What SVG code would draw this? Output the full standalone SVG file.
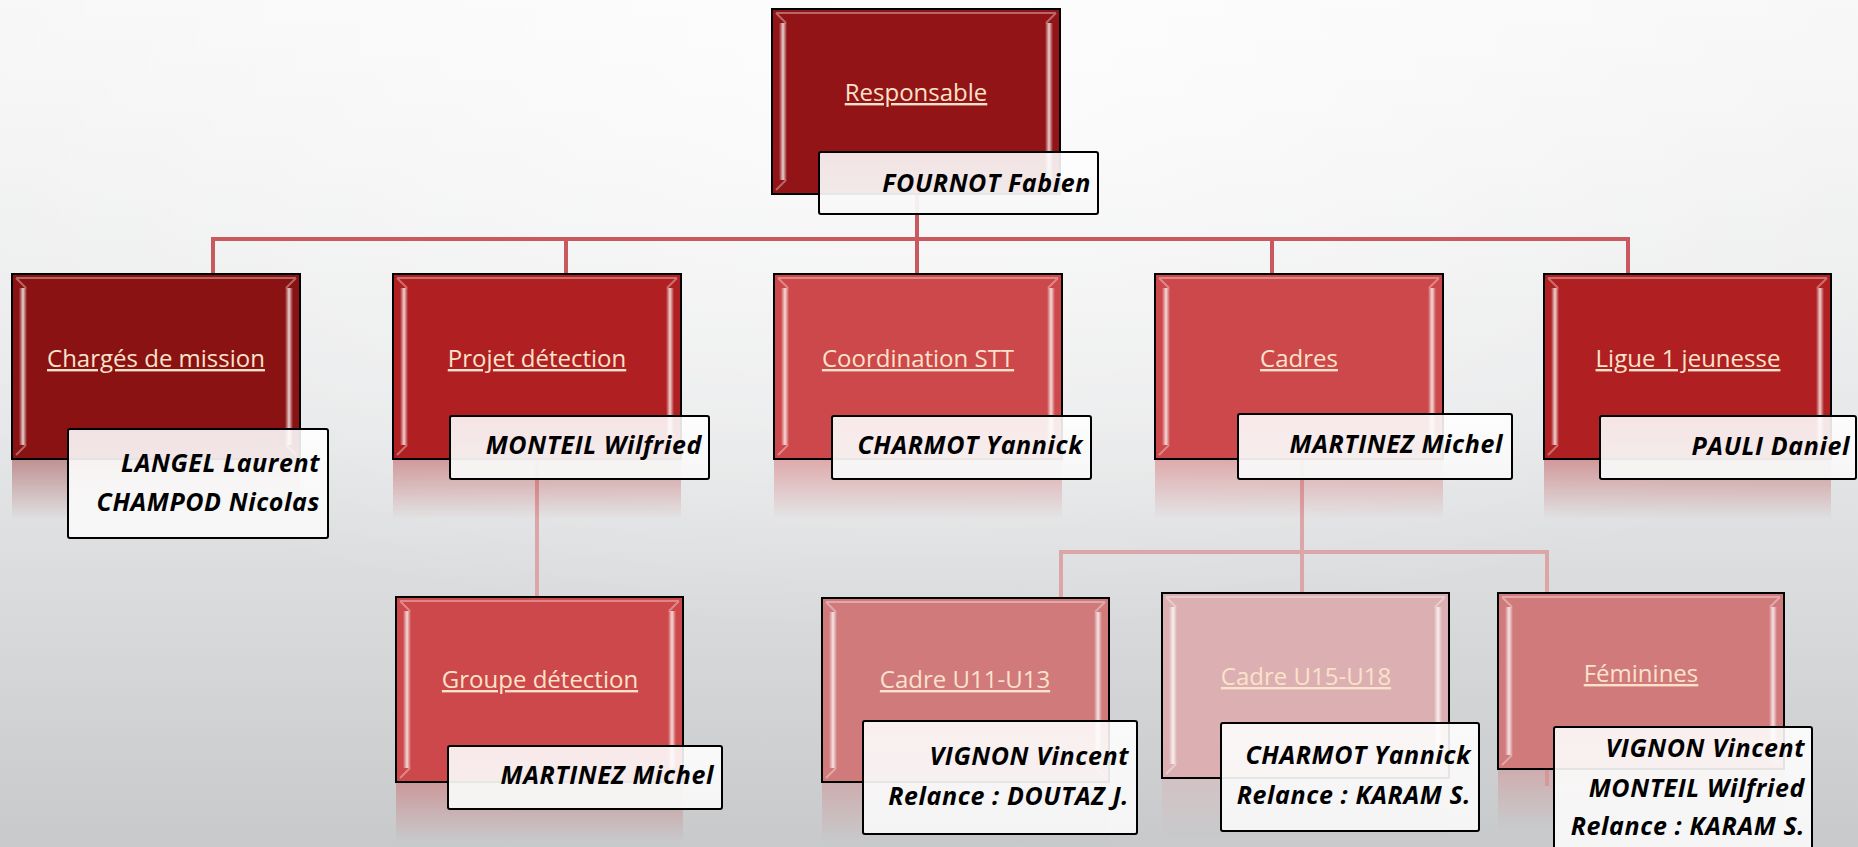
<svg xmlns="http://www.w3.org/2000/svg" width="1858" height="847" viewBox="0 0 1858 847">
<defs>
<linearGradient id="bg" x1="0" y1="0" x2="0" y2="1">
<stop offset="0" stop-color="#f6f6f6"/>
<stop offset="0.5" stop-color="#e6e7e8"/>
<stop offset="1" stop-color="#c7c9cb"/>
</linearGradient>
<radialGradient id="glow" cx="0.5" cy="0.05" r="0.7">
<stop offset="0" stop-color="#ffffff" stop-opacity="0.8"/>
<stop offset="1" stop-color="#ffffff" stop-opacity="0"/>
</radialGradient>
<linearGradient id="vstrip" x1="0" y1="0" x2="1" y2="0">
<stop offset="0" stop-color="#ffffff" stop-opacity="0"/>
<stop offset="0.5" stop-color="#ffffff" stop-opacity="0.8"/>
<stop offset="1" stop-color="#ffffff" stop-opacity="0"/>
</linearGradient>
<linearGradient id="fade" x1="0" y1="0" x2="0" y2="1">
<stop offset="0" stop-color="#ffffff" stop-opacity="0.4"/>
<stop offset="1" stop-color="#ffffff" stop-opacity="0"/>
</linearGradient>
<mask id="refl" maskContentUnits="objectBoundingBox">
<rect x="0" y="0" width="1" height="1" fill="url(#fade)"/>
</mask>
<linearGradient id="namefill" x1="0" y1="0" x2="0" y2="1">
<stop offset="0" stop-color="#ffffff" stop-opacity="0.88"/>
<stop offset="1" stop-color="#f7f7f7" stop-opacity="0.95"/>
</linearGradient>
</defs>
<style>
.box{stroke:#000;stroke-width:2}
.strip{fill:url(#vstrip)}
.hl{stroke:#ffffff;stroke-opacity:0.35;stroke-width:2;fill:none}
.lbl{font-family:"Open Sans","Liberation Sans",sans-serif;font-size:24px;fill:#fbe2cb;text-anchor:middle;text-decoration:underline}
.name{fill:url(#namefill);stroke:#000;stroke-width:2}
.nt{font-family:"Open Sans","Liberation Sans",sans-serif;font-size:25px;letter-spacing:0.6px;font-weight:bold;font-style:italic;fill:#000;text-anchor:end}
.c1{stroke:#c85a5f;stroke-width:4;fill:none}
.c2{stroke:#dca5a8;stroke-width:4;fill:none}
</style>
<rect width="1858" height="847" fill="url(#bg)"/>
<rect width="1858" height="847" fill="url(#glow)"/>

<g id="connectors">
<path class="c1" d="M917 194V274"/>
<path class="c1" d="M213 274V239H1628V274"/>
<path class="c1" d="M566 239V274"/>
<path class="c1" d="M1272 239V274"/>
<path class="c2" d="M537 459V597"/>
<path class="c2" d="M1302 459V593"/>
<path class="c2" d="M1061 598V552H1547V786"/>
</g>

<g id="responsable" transform="translate(772,9)">
<rect class="box" width="288" height="185" fill="#921416"/>
<rect class="strip" x="7" y="14" width="8" height="157"/>
<rect class="strip" x="273" y="14" width="8" height="157"/>
<path class="hl" d="M4 4H284M4 4L14 14M284 4L274 14M4 181L14 171M284 181L274 171"/>
<text class="lbl" x="144" y="92">Responsable</text>
</g>
<g id="responsable-name"><rect class="name" x="819" y="152" width="279" height="62" rx="2"/><text class="nt" x="1091" y="192">FOURNOT Fabien</text></g>

<g id="charges" transform="translate(12,274)">
<rect x="0" y="185" width="288" height="60" fill="#8a1213" mask="url(#refl)"/>
<rect class="box" width="288" height="185" fill="#8a1213"/>
<rect class="strip" x="7" y="14" width="8" height="157"/>
<rect class="strip" x="273" y="14" width="8" height="157"/>
<path class="hl" d="M4 4H284M4 4L14 14M284 4L274 14M4 181L14 171M284 181L274 171"/>
<text class="lbl" x="144" y="93">Chargés de mission</text>
</g>
<g id="charges-name"><rect class="name" x="68" y="429" width="260" height="109" rx="2"/><text class="nt" x="320" y="472">LANGEL Laurent</text><text class="nt" x="320" y="511">CHAMPOD Nicolas</text></g>

<g id="projet" transform="translate(393,274)">
<rect x="0" y="185" width="288" height="60" fill="#b02022" mask="url(#refl)"/>
<rect class="box" width="288" height="185" fill="#b02022"/>
<rect class="strip" x="7" y="14" width="8" height="157"/>
<rect class="strip" x="273" y="14" width="8" height="157"/>
<path class="hl" d="M4 4H284M4 4L14 14M284 4L274 14M4 181L14 171M284 181L274 171"/>
<text class="lbl" x="144" y="93">Projet détection</text>
</g>
<g id="projet-name"><rect class="name" x="450" y="416" width="259" height="63" rx="2"/><text class="nt" x="702" y="454">MONTEIL Wilfried</text></g>

<g id="coordination" transform="translate(774,274)">
<rect x="0" y="185" width="288" height="60" fill="#cc484a" mask="url(#refl)"/>
<rect class="box" width="288" height="185" fill="#cc484a"/>
<rect class="strip" x="7" y="14" width="8" height="157"/>
<rect class="strip" x="273" y="14" width="8" height="157"/>
<path class="hl" d="M4 4H284M4 4L14 14M284 4L274 14M4 181L14 171M284 181L274 171"/>
<text class="lbl" x="144" y="93">Coordination STT</text>
</g>
<g id="coordination-name"><rect class="name" x="832" y="416" width="259" height="63" rx="2"/><text class="nt" x="1083" y="454">CHARMOT Yannick</text></g>

<g id="cadres" transform="translate(1155,274)">
<rect x="0" y="185" width="288" height="60" fill="#cc484a" mask="url(#refl)"/>
<rect class="box" width="288" height="185" fill="#cc484a"/>
<rect class="strip" x="7" y="14" width="8" height="157"/>
<rect class="strip" x="273" y="14" width="8" height="157"/>
<path class="hl" d="M4 4H284M4 4L14 14M284 4L274 14M4 181L14 171M284 181L274 171"/>
<text class="lbl" x="144" y="93">Cadres</text>
</g>
<g id="cadres-name"><rect class="name" x="1238" y="414" width="274" height="65" rx="2"/><text class="nt" x="1503" y="453">MARTINEZ Michel</text></g>

<g id="ligue" transform="translate(1544,274)">
<rect x="0" y="185" width="287" height="60" fill="#b02022" mask="url(#refl)"/>
<rect class="box" width="287" height="185" fill="#b02022"/>
<rect class="strip" x="7" y="14" width="8" height="157"/>
<rect class="strip" x="272" y="14" width="8" height="157"/>
<path class="hl" d="M4 4H283M4 4L14 14M283 4L273 14M4 181L14 171M283 181L273 171"/>
<text class="lbl" x="144" y="93">Ligue 1 jeunesse</text>
</g>
<g id="ligue-name"><rect class="name" x="1600" y="416" width="256" height="63" rx="2"/><text class="nt" x="1850" y="455">PAULI Daniel</text></g>

<g id="groupe" transform="translate(396,597)">
<rect x="0" y="185" width="287" height="60" fill="#cc484a" mask="url(#refl)"/>
<rect class="box" width="287" height="185" fill="#cc484a"/>
<rect class="strip" x="7" y="14" width="8" height="157"/>
<rect class="strip" x="272" y="14" width="8" height="157"/>
<path class="hl" d="M4 4H283M4 4L14 14M283 4L273 14M4 181L14 171M283 181L273 171"/>
<text class="lbl" x="144" y="91">Groupe détection</text>
</g>
<g id="groupe-name"><rect class="name" x="448" y="746" width="274" height="63" rx="2"/><text class="nt" x="714" y="784">MARTINEZ Michel</text></g>

<g id="u11" transform="translate(822,598)">
<rect x="0" y="184" width="287" height="60" fill="#d07a7c" mask="url(#refl)"/>
<rect class="box" width="287" height="184" fill="#d07a7c"/>
<rect class="strip" x="7" y="14" width="8" height="156"/>
<rect class="strip" x="272" y="14" width="8" height="156"/>
<path class="hl" d="M4 4H283M4 4L14 14M283 4L273 14M4 180L14 170M283 180L273 170"/>
<text class="lbl" x="143" y="90">Cadre U11-U13</text>
</g>
<g id="u11-name"><rect class="name" x="863" y="721" width="274" height="113" rx="2"/><text class="nt" x="1129" y="765">VIGNON Vincent</text><text class="nt" x="1129" y="805">Relance : DOUTAZ J.</text></g>

<g id="u15" transform="translate(1162,593)">
<rect x="0" y="185" width="287" height="60" fill="#dcb0b2" mask="url(#refl)"/>
<rect class="box" width="287" height="185" fill="#dcb0b2"/>
<rect class="strip" x="7" y="14" width="8" height="157"/>
<rect class="strip" x="272" y="14" width="8" height="157"/>
<path class="hl" d="M4 4H283M4 4L14 14M283 4L273 14M4 181L14 171M283 181L273 171"/>
<text class="lbl" x="144" y="92">Cadre U15-U18</text>
</g>
<g id="u15-name"><rect class="name" x="1221" y="723" width="258" height="108" rx="2"/><text class="nt" x="1471" y="764">CHARMOT Yannick</text><text class="nt" x="1471" y="804">Relance : KARAM S.</text></g>

<g id="feminines" transform="translate(1498,593)">
<rect x="0" y="176" width="286" height="60" fill="#d07a7c" mask="url(#refl)"/>
<rect class="box" width="286" height="176" fill="#d07a7c"/>
<rect class="strip" x="7" y="14" width="8" height="148"/>
<rect class="strip" x="271" y="14" width="8" height="148"/>
<path class="hl" d="M4 4H282M4 4L14 14M282 4L272 14M4 172L14 162M282 172L272 162"/>
<text class="lbl" x="143" y="89">Féminines</text>
</g>
<g id="feminines-name"><rect class="name" x="1554" y="727" width="258" height="130" rx="2"/><text class="nt" x="1805" y="757">VIGNON Vincent</text><text class="nt" x="1805" y="797">MONTEIL Wilfried</text><text class="nt" x="1805" y="835">Relance : KARAM S.</text></g>
</svg>
